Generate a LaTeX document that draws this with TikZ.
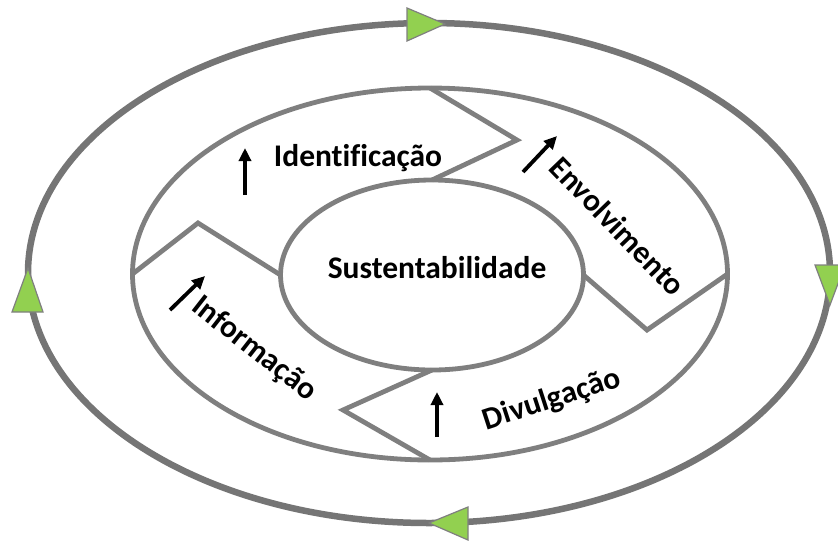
\documentclass[tikz,border=0pt]{standalone}
\usepackage{fontspec}
\setsansfont{Carlito}[Ligatures=NoCommon]
\usetikzlibrary{shapes.geometric,arrows.meta}
\definecolor{ringgray}{RGB}{127,127,127}
\definecolor{flowgreen}{RGB}{146,208,80}

\begin{document}
\begin{tikzpicture}[x=1pt,y=-1pt,
  ring/.style={draw=ringgray,line width=4.8pt,ellipse,inner sep=0pt,outer sep=0pt},
  cut/.style={draw=ringgray,line width=4.8pt,line join=miter},
  tri/.style={draw=ringgray,fill=flowgreen,line width=1.2pt,line join=miter},
  uparrow/.style={-{Triangle[length=13pt,width=12pt]},line width=3.8pt},
  lab/.style={font=\sffamily\bfseries\fontsize{31.5}{36}\selectfont,inner sep=0pt}]
\useasboundingbox (0,0) rectangle (838,542);

% Rings
\node[ring,line width=6.5pt,draw=ringgray!92!black,minimum width=802pt,minimum height=500pt] (outer) at (429,273) {};
\node[ring,minimum width=595pt,minimum height=372pt] (mid) at (430,274) {};
\node[ring,minimum width=303pt,minimum height=190pt] (core) at (432,275) {};
\node[lab] (coretxt) at (437,268) {Sustentabilidade};

% Cuts between the steps
\coordinate (kTop) at (517,140);
\coordinate (kRight) at (647,330);
\coordinate (kBottom) at (343,410);
\coordinate (kLeft) at (198,223);
\draw[cut] (mid.north) -- (kTop) -- (core.north);
\draw[cut] (core.east) -- (kRight) -- (mid.east);
\draw[cut] (core.south) -- (kBottom) -- (mid.south);
\draw[cut] (mid.west) -- (kLeft) -- (core.west);

% Green markers on the outer ring
\draw[tri] (407,8) -- (445,24) -- (407,41) -- cycle;
\draw[tri] (815,265) -- (845,265) -- (830,305) -- cycle;
\draw[tri] (468,507) -- (468,540) -- (429,523) -- cycle;
\draw[tri] (12,312) -- (43,312) -- (28,268) -- cycle;

% Steps
\node[lab] (ident) at (358,158) {Identificação};
\node[lab,rotate=-46] (envol) at (618,226) {Envolvimento};
\node[lab,rotate=18] (divul) at (552,400) {Divulgação};
\node[lab,rotate=-38] (info) at (254,349) {Informação};

% Small arrows
\draw[uparrow] (245,195) -- (245,148);
\draw[uparrow] (523,172) -- (557,136);
\draw[uparrow] (437,437) -- (437,392);
\draw[uparrow] (170,310) -- (205,276);
\end{tikzpicture}
\end{document}
